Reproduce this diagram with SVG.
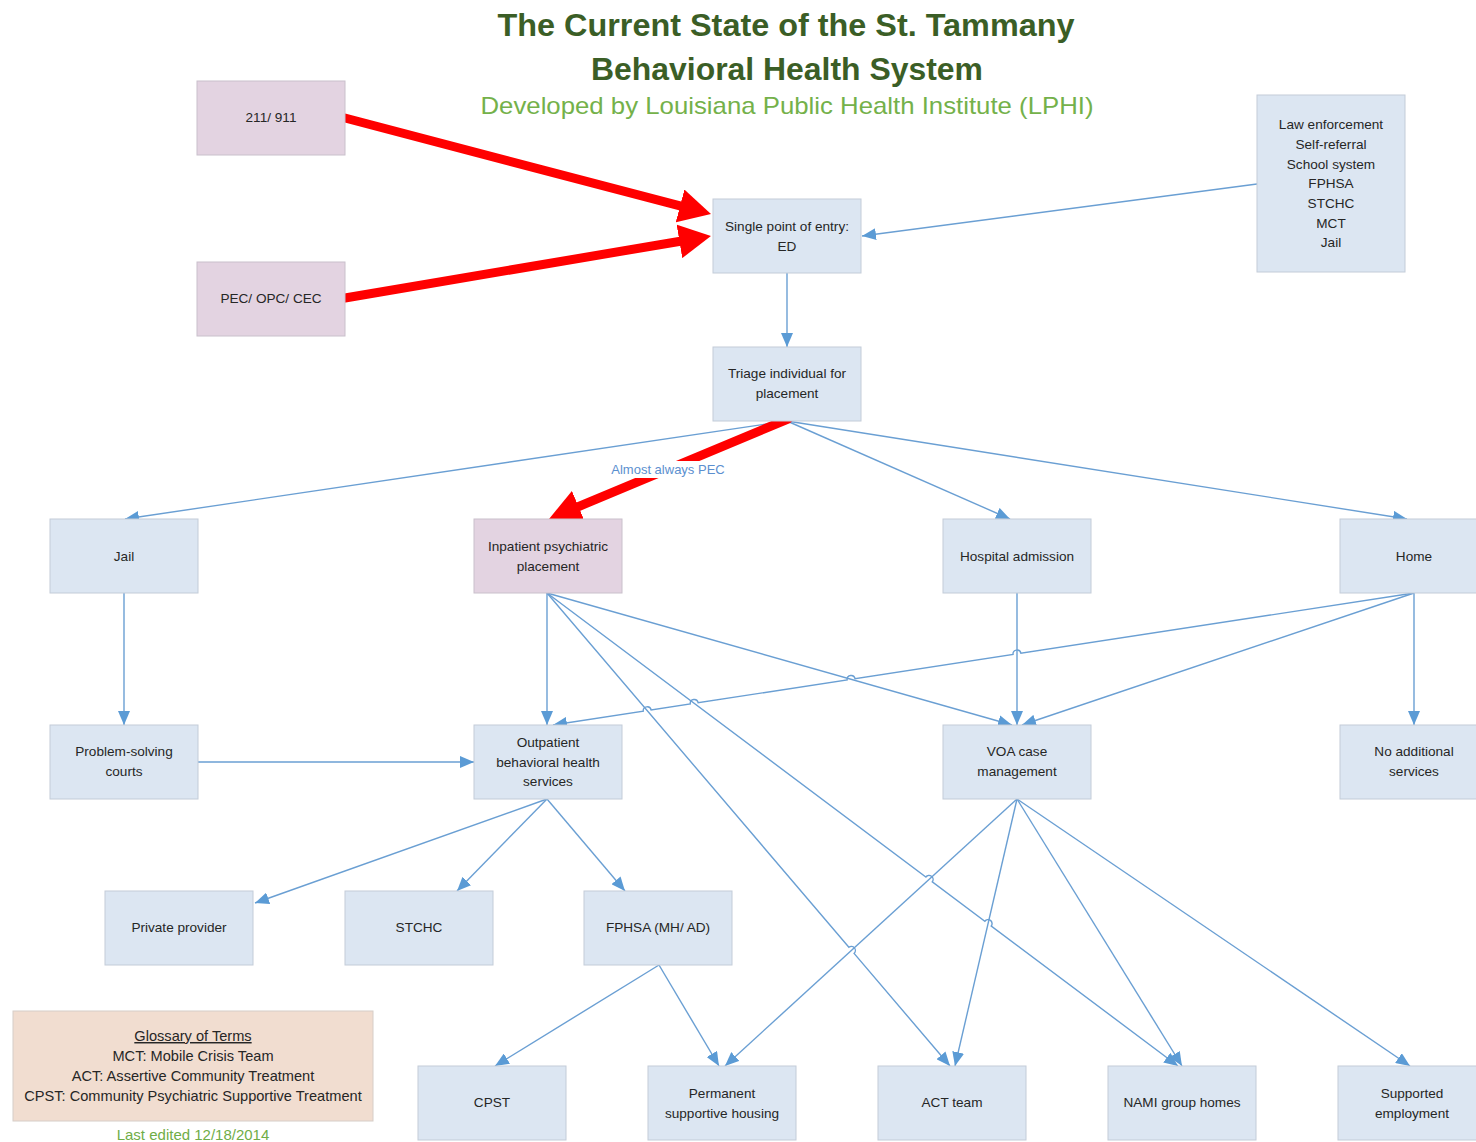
<svg xmlns="http://www.w3.org/2000/svg" width="1476" height="1142" viewBox="0 0 1476 1142">
<style>
.nb{fill:#dce6f2;stroke:#c3ccd8;stroke-width:1}
.np{fill:#e3d3e1;stroke:#c9c0cb;stroke-width:1}
.ng{fill:#f1ddd0;stroke:#d6cdc8;stroke-width:1}
.t{font-family:"Liberation Sans",Arial,sans-serif;font-size:13.6px;fill:#262626;text-anchor:middle}
.g{font-family:"Liberation Sans",Arial,sans-serif;font-size:14.6px;fill:#262626;text-anchor:middle}
.c{fill:none;stroke:#6a9fd3;stroke-width:1.4}
.r{fill:none;stroke:#ff0000;stroke-width:9;stroke-linecap:round}
</style>
<defs>
<marker id="ba" viewBox="0 0 14 12" markerWidth="14" markerHeight="12" refX="14" refY="6" orient="auto" markerUnits="userSpaceOnUse"><path d="M0,0 L14,6 L0,12 z" fill="#5b9bd5"/></marker>
<marker id="ra" viewBox="0 0 32 34" markerWidth="32" markerHeight="34" refX="1" refY="17" orient="auto" markerUnits="userSpaceOnUse"><path d="M0,0 L32,17 L0,34 z" fill="#ff0000"/></marker>
</defs>
<rect width="1476" height="1142" fill="#ffffff"/>
<g id="title">
<text x="786" y="36" textLength="577" lengthAdjust="spacingAndGlyphs" font-family="Liberation Sans,Arial,sans-serif" font-weight="bold" font-size="31" fill="#3b5e26" text-anchor="middle">The Current State of the St. Tammany</text>
<text x="787" y="80" textLength="392" lengthAdjust="spacingAndGlyphs" font-family="Liberation Sans,Arial,sans-serif" font-weight="bold" font-size="31" fill="#3b5e26" text-anchor="middle">Behavioral Health System</text>
<text x="787" y="114" textLength="613" lengthAdjust="spacingAndGlyphs" font-family="Liberation Sans,Arial,sans-serif" font-size="24" fill="#74b14a" text-anchor="middle">Developed by Louisiana Public Health Institute (LPHI)</text>
</g>
<g id="connectors">
<path class="c" d="M1257,184 L862,236" marker-end="url(#ba)"/>
<path class="c" d="M787,273 L787,347" marker-end="url(#ba)"/>
<path class="c" d="M787,421 L125,519" marker-end="url(#ba)"/>
<path class="c" d="M787,421 L1010,519" marker-end="url(#ba)"/>
<path class="c" d="M787,421 L1407,519" marker-end="url(#ba)"/>
<path class="c" d="M124,593 L124,725" marker-end="url(#ba)"/>
<path class="c" d="M198,762 L474,762" marker-end="url(#ba)"/>
<path class="c" d="M547,593 L547,725" marker-end="url(#ba)"/>
<path class="c" d="M547,593 L1012,725" marker-end="url(#ba)"/>
<path class="c" d="M547,593 L848.88,947.32 A4,4 0 0 1 854.06,953.41 L950,1066" marker-end="url(#ba)"/>
<path class="c" d="M547,593 L925.87,877 A4,4 0 0 1 932.27,881.8 L984.86,921.22 A4,4 0 0 1 991.26,926.02 L1178,1066" marker-end="url(#ba)"/>
<path class="c" d="M1017,593 L1017,725" marker-end="url(#ba)"/>
<path class="c" d="M1414,593 L1020.95,653.3 A4,4 0 0 0 1013.05,654.5 L855.05,678.7 A4,4 0 0 0 847.15,679.9 L698.15,702.7 A4,4 0 0 0 690.25,703.9 L651.15,710 A4,4 0 0 0 643.25,711.2 L553,725" marker-end="url(#ba)"/>
<path class="c" d="M1414,593 L1022,725" marker-end="url(#ba)"/>
<path class="c" d="M1414,593 L1414,725" marker-end="url(#ba)"/>
<path class="c" d="M547,799 L255,903" marker-end="url(#ba)"/>
<path class="c" d="M547,799 L457,891" marker-end="url(#ba)"/>
<path class="c" d="M547,799 L625,891" marker-end="url(#ba)"/>
<path class="c" d="M659,965 L495,1066" marker-end="url(#ba)"/>
<path class="c" d="M659,965 L719,1066" marker-end="url(#ba)"/>
<path class="c" d="M1017,799 L725,1066" marker-end="url(#ba)"/>
<path class="c" d="M1017,799 L955,1066" marker-end="url(#ba)"/>
<path class="c" d="M1017,799 L1182,1066" marker-end="url(#ba)"/>
<path class="c" d="M1017,799 L1410,1066" marker-end="url(#ba)"/>
<path class="r" d="M345,118 L681,206.2" marker-end="url(#ra)"/>
<path class="r" d="M345,298 L680.4,241.2" marker-end="url(#ra)"/>
<path class="r" d="M788,419 L577.6,507" marker-end="url(#ra)"/>
<rect x="606" y="461" width="125" height="17" fill="#ffffff"/>
<text x="668" y="474" font-family="Liberation Sans,Arial,sans-serif" font-size="13" fill="#5b8fcf" text-anchor="middle">Almost always PEC</text>
</g>
<g id="n211"><rect class="np" x="197" y="81" width="148" height="74"/><text class="t" x="271" y="122">211/ 911</text></g>
<g id="nPEC"><rect class="np" x="197" y="262" width="148" height="74"/><text class="t" x="271" y="303">PEC/ OPC/ CEC</text></g>
<g id="nSPE"><rect class="nb" x="713" y="199" width="148" height="74"/><text class="t" x="787" y="231">Single point of entry:</text><text class="t" x="787" y="251">ED</text></g>
<g id="nLaw"><rect class="nb" x="1257" y="95" width="148" height="177"/>
<text class="t" x="1331" y="129">Law enforcement</text><text class="t" x="1331" y="149">Self-referral</text><text class="t" x="1331" y="169">School system</text><text class="t" x="1331" y="188">FPHSA</text><text class="t" x="1331" y="208">STCHC</text><text class="t" x="1331" y="228">MCT</text><text class="t" x="1331" y="247">Jail</text></g>
<g id="nTriage"><rect class="nb" x="713" y="347" width="148" height="74"/><text class="t" x="787" y="378">Triage individual for</text><text class="t" x="787" y="398">placement</text></g>
<g id="nJail"><rect class="nb" x="50" y="519" width="148" height="74"/><text class="t" x="124" y="561">Jail</text></g>
<g id="nInpatient"><rect class="np" x="474" y="519" width="148" height="74"/><text class="t" x="548" y="551">Inpatient psychiatric</text><text class="t" x="548" y="571">placement</text></g>
<g id="nHospital"><rect class="nb" x="943" y="519" width="148" height="74"/><text class="t" x="1017" y="561">Hospital admission</text></g>
<g id="nHome"><rect class="nb" x="1340" y="519" width="148" height="74"/><text class="t" x="1414" y="561">Home</text></g>
<g id="nPSC"><rect class="nb" x="50" y="725" width="148" height="74"/><text class="t" x="124" y="756">Problem-solving</text><text class="t" x="124" y="776">courts</text></g>
<g id="nOutpatient"><rect class="nb" x="474" y="725" width="148" height="74"/><text class="t" x="548" y="747">Outpatient</text><text class="t" x="548" y="767">behavioral health</text><text class="t" x="548" y="786">services</text></g>
<g id="nVOA"><rect class="nb" x="943" y="725" width="148" height="74"/><text class="t" x="1017" y="756">VOA case</text><text class="t" x="1017" y="776">management</text></g>
<g id="nNoAdd"><rect class="nb" x="1340" y="725" width="148" height="74"/><text class="t" x="1414" y="756">No additional</text><text class="t" x="1414" y="776">services</text></g>
<g id="nPrivate"><rect class="nb" x="105" y="891" width="148" height="74"/><text class="t" x="179" y="932">Private provider</text></g>
<g id="nSTCHC"><rect class="nb" x="345" y="891" width="148" height="74"/><text class="t" x="419" y="932">STCHC</text></g>
<g id="nFPHSA"><rect class="nb" x="584" y="891" width="148" height="74"/><text class="t" x="658" y="932">FPHSA (MH/ AD)</text></g>
<g id="nGlossary"><rect class="ng" x="13" y="1011" width="360" height="110"/>
<text class="g" x="193" y="1041" text-decoration="underline">Glossary of Terms</text>
<text class="g" x="193" y="1061">MCT: Mobile Crisis Team</text>
<text class="g" x="193" y="1081">ACT: Assertive Community Treatment</text>
<text class="g" x="193" y="1101">CPST: Community Psychiatric Supportive Treatment</text></g>
<g id="lastEdited"><text x="193" y="1140" font-family="Liberation Sans,Arial,sans-serif" font-size="15" fill="#70ad47" text-anchor="middle">Last edited 12/18/2014</text></g>
<g id="nCPST"><rect class="nb" x="418" y="1066" width="148" height="74"/><text class="t" x="492" y="1107">CPST</text></g>
<g id="nPerm"><rect class="nb" x="648" y="1066" width="148" height="74"/><text class="t" x="722" y="1098">Permanent</text><text class="t" x="722" y="1118">supportive housing</text></g>
<g id="nACT"><rect class="nb" x="878" y="1066" width="148" height="74"/><text class="t" x="952" y="1107">ACT team</text></g>
<g id="nNAMI"><rect class="nb" x="1108" y="1066" width="148" height="74"/><text class="t" x="1182" y="1107">NAMI group homes</text></g>
<g id="nSupported"><rect class="nb" x="1338" y="1066" width="148" height="74"/><text class="t" x="1412" y="1098">Supported</text><text class="t" x="1412" y="1118">employment</text></g>
</svg>
